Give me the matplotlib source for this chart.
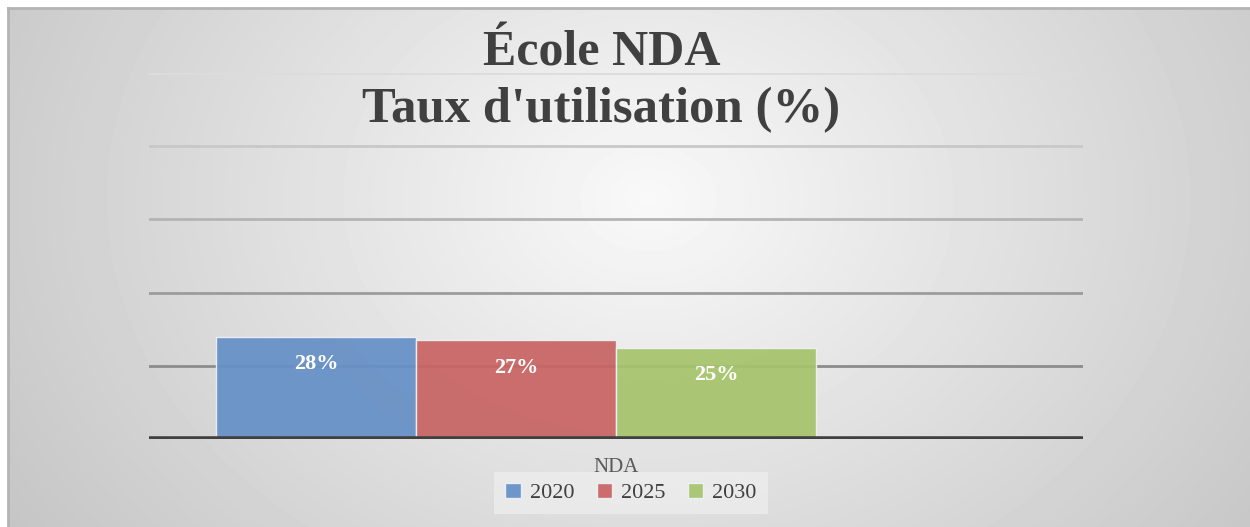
import numpy as np
import matplotlib.pyplot as plt

plt.rcParams['font.family'] = ['Liberation Serif', 'DejaVu Serif']

# data
categories = ["NDA"]
series_names = ["2020", "2025", "2030"]
values = [28, 27, 25]
colors = ["#6690c6", "#c86463", "#a6c46c"]
n_slots = 4          # the chart keeps room for a fourth (empty) series
yticks = [0, 20, 40, 60, 80, 100]

W, H = 1250, 527
fig = plt.figure(figsize=(W / 100, H / 100), dpi=100)
fig.patch.set_facecolor("white")

# background panel with a soft radial gradient
bg = fig.add_axes([8 / W, 0, 1242 / W, 519 / H], zorder=0)
yy, xx = np.mgrid[0:519, 0:1242]
r = np.sqrt(((xx - 640) / 720.0) ** 2 + ((yy - 190) / 560.0) ** 2)
shade = np.clip(0.975 - 0.19 * r, 0.72, 1.0)
bg.imshow(shade, cmap="gray", vmin=0, vmax=1, aspect="auto",
          extent=[0, 1, 0, 1], interpolation="bilinear")
bg.set_xticks([])
bg.set_yticks([])
for s in ["bottom", "right"]:
    bg.spines[s].set_visible(False)
for s in ["top", "left"]:
    bg.spines[s].set_color("#b4b4b4")
    bg.spines[s].set_linewidth(2)

# plot area
ax = fig.add_axes([149 / W, 88 / H, 934 / W, 366 / H], zorder=1)
ax.patch.set_alpha(0)
ax.set_xlim(-0.5, 0.5)
ax.set_ylim(0, 100)

grid_cols = ["#8c8c8c", "#9c9c9c", "#b4b4b4", "#c8c8c8", "#dcdcdc"]
for t, c in zip(yticks[1:], grid_cols):
    ax.axhline(t, color=c, lw=2, zorder=0)
ax.axhline(0, color="#404040", lw=4, zorder=3)

gap = 0.67
bw = 1.0 / (n_slots + gap)
x0 = -n_slots * bw / 2 + bw / 2
for i, (name, v, c) in enumerate(zip(series_names, values, colors)):
    xpos = x0 + i * bw
    ax.bar(xpos, v, width=bw, color=c, alpha=0.93, edgecolor="#eef2f6",
           linewidth=1, label=name, zorder=2)
    ax.annotate(f"{v}%", (xpos, v), xytext=(0, -20), textcoords="offset points",
                ha="center", va="center", color="white", fontsize=16,
                fontweight="bold", zorder=4)

ax.set_xticks([0])
ax.set_xticklabels(categories, fontsize=15, color="#595959")
ax.tick_params(axis="x", length=0, pad=14)
ax.set_yticks([])
for s in ax.spines.values():
    s.set_visible(False)

# title
fig.text(602 / W, 1 - 54 / H, "École NDA", ha="center", va="center",
         fontsize=36, fontweight="bold", color="#404040")
fig.text(601 / W, 1 - 110 / H, "Taux d'utilisation (%)", ha="center", va="center",
         fontsize=36.5, fontweight="bold", color="#404040")

leg = fig.legend(loc="center", bbox_to_anchor=(631 / W, 1 - 493 / H), ncol=3,
                 frameon=True, fontsize=16, handlelength=0.7, handleheight=0.7,
                 handletextpad=0.4, columnspacing=1.0, borderpad=0.5)
leg.get_frame().set_facecolor("#f2f2f2")
leg.get_frame().set_alpha(0.6)
leg.get_frame().set_edgecolor("none")
leg.get_frame().set_boxstyle("square", pad=0)
for t in leg.get_texts():
    t.set_color("#404040")

fig.savefig("out.png", dpi=100)
